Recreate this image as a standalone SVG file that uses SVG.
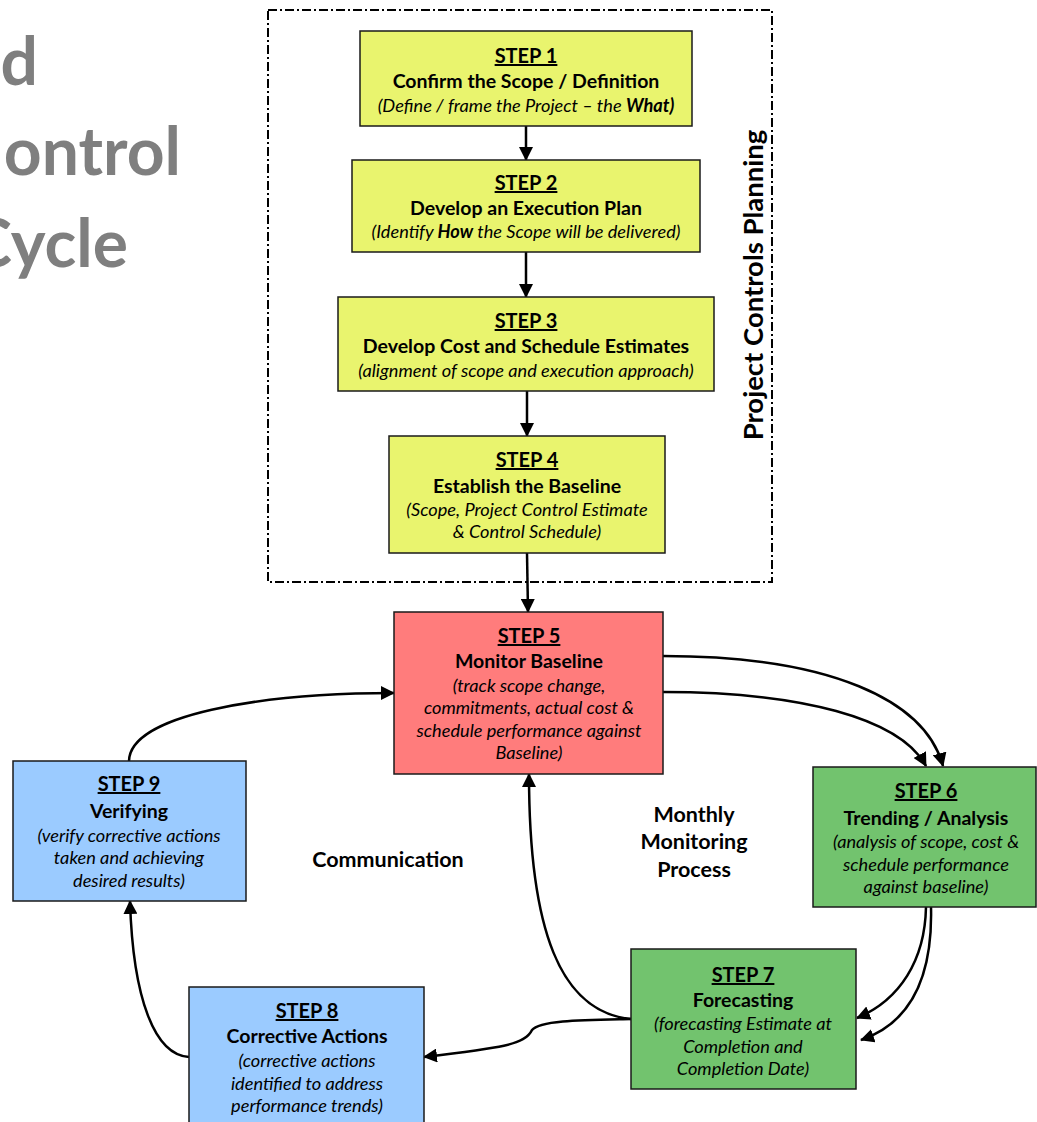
<svg xmlns="http://www.w3.org/2000/svg" width="1037" height="1122" viewBox="0 0 1037 1122">
  <style>
    .box { stroke: #1a1a1a; stroke-width: 1.5; }
    .yellow { fill: #E9F46E; }
    .red { fill: #FF7C7C; }
    .green { fill: #72C36E; }
    .blue { fill: #9BCBFF; }
    text { font-family: Lato, "Open Sans", "Liberation Sans", sans-serif; fill: #000; text-anchor: middle; }
    .step { font-weight: bold; font-size: 20px; text-decoration: underline; }
    .head { font-weight: bold; font-size: 19.5px; }
    .note { font-style: italic; font-size: 18.2px; }
    .b { font-weight: bold; }
    .label { font-weight: bold; font-size: 21.5px; }
    .side { font-weight: bold; font-size: 27.5px; }
    .title { font-weight: bold; font-size: 66px; fill: #7F7F7F; text-anchor: end; }
    .conn { fill: none; stroke: #000; stroke-width: 2.5; }
    .frame { fill: none; stroke: #000; stroke-width: 2; stroke-dasharray: 9 3 2 3; }
  </style>
  <defs>
    <marker id="arrow" markerUnits="userSpaceOnUse" markerWidth="14" markerHeight="14" refX="13" refY="7" orient="auto">
      <path d="M0,0 L14,7 L0,14 z" fill="#000"/>
    </marker>
  </defs>

  <rect width="1037" height="1122" fill="#fff"/>

  <!-- Title fragment at the left edge -->
  <g id="title">
    <text class="title" x="38" y="85">d</text>
    <text class="title" x="181" y="175">ontrol</text>
    <text class="title" x="128" y="267">Cycle</text>
  </g>

  <!-- Planning frame -->
  <g id="planning-frame">
    <rect class="frame" x="268" y="10" width="504" height="572"/>
    <text class="side" transform="translate(763,285) rotate(-90)">Project Controls Planning</text>
  </g>

  <!-- Connectors -->
  <g id="connectors">
    <line class="conn" x1="526" y1="126" x2="526" y2="160" marker-end="url(#arrow)"/>
    <line class="conn" x1="526" y1="252" x2="526" y2="297" marker-end="url(#arrow)"/>
    <line class="conn" x1="527" y1="391" x2="527" y2="436" marker-end="url(#arrow)"/>
    <line class="conn" x1="527" y1="553" x2="528" y2="612" marker-end="url(#arrow)"/>
    <path class="conn" d="M663,656 C830,656 925,700 943,766" marker-end="url(#arrow)"/>
    <path class="conn" d="M663,692 C800,692 900,718 926,766" marker-end="url(#arrow)"/>
    <path class="conn" d="M926,907 C925,960 900,1000 857,1018" marker-end="url(#arrow)"/>
    <path class="conn" d="M931,907 C933,985 905,1025 861,1040" marker-end="url(#arrow)"/>
    <path class="conn" d="M631,1019 C560,1012 529,930 529,774" marker-end="url(#arrow)"/>
    <path class="conn" d="M631,1019 C585,1020 540,1020 532,1030 C525,1045 500,1048 424,1057" marker-end="url(#arrow)"/>
    <path class="conn" d="M189,1057 C155,1055 133,1000 130,901" marker-end="url(#arrow)"/>
    <path class="conn" d="M129,761 C130,715 260,693 394,693" marker-end="url(#arrow)"/>
  </g>

  <!-- Steps -->
  <g id="step1">
    <rect class="box yellow" x="360" y="31" width="332" height="95"/>
    <text class="step" x="526" y="63">STEP 1</text>
    <text class="head" x="526" y="88">Confirm the Scope / Definition</text>
    <text class="note" x="526" y="112">(Define / frame the Project – the <tspan class="b">What)</tspan></text>
  </g>
  <g id="step2">
    <rect class="box yellow" x="352" y="160" width="348" height="92"/>
    <text class="step" x="526" y="190">STEP 2</text>
    <text class="head" x="526" y="215">Develop an Execution Plan</text>
    <text class="note" x="526" y="238">(Identify <tspan class="b">How</tspan> the Scope will be delivered)</text>
  </g>
  <g id="step3">
    <rect class="box yellow" x="338" y="297" width="376" height="94"/>
    <text class="step" x="526" y="328">STEP 3</text>
    <text class="head" x="526" y="353">Develop Cost and Schedule Estimates</text>
    <text class="note" x="526" y="377">(alignment of scope and execution approach)</text>
  </g>
  <g id="step4">
    <rect class="box yellow" x="389" y="436" width="276" height="117"/>
    <text class="step" x="527" y="467">STEP 4</text>
    <text class="head" x="527" y="493">Establish the Baseline</text>
    <text class="note" x="527" y="516">(Scope, Project Control Estimate</text>
    <text class="note" x="527" y="538">&amp; Control Schedule)</text>
  </g>
  <g id="step5">
    <rect class="box red" x="394" y="612" width="269" height="162"/>
    <text class="step" x="529" y="643">STEP 5</text>
    <text class="head" x="529" y="668">Monitor Baseline</text>
    <text class="note" x="529" y="692">(track scope change,</text>
    <text class="note" x="529" y="714">commitments, actual cost &amp;</text>
    <text class="note" x="529" y="737">schedule performance against</text>
    <text class="note" x="529" y="759">Baseline)</text>
  </g>
  <g id="step6">
    <rect class="box green" x="813" y="767" width="223" height="140"/>
    <text class="step" x="926" y="798">STEP 6</text>
    <text class="head" x="926" y="825">Trending / Analysis</text>
    <text class="note" x="926" y="848">(analysis of scope, cost &amp;</text>
    <text class="note" x="926" y="871">schedule performance</text>
    <text class="note" x="926" y="893">against baseline)</text>
  </g>
  <g id="step7">
    <rect class="box green" x="631" y="949" width="225" height="140"/>
    <text class="step" x="743" y="982">STEP 7</text>
    <text class="head" x="743" y="1007">Forecasting</text>
    <text class="note" x="743" y="1030">(forecasting Estimate at</text>
    <text class="note" x="743" y="1053">Completion and</text>
    <text class="note" x="743" y="1075">Completion Date)</text>
  </g>
  <g id="step8">
    <rect class="box blue" x="189" y="987" width="235" height="150"/>
    <text class="step" x="307" y="1018">STEP 8</text>
    <text class="head" x="307" y="1043">Corrective Actions</text>
    <text class="note" x="307" y="1067">(corrective actions</text>
    <text class="note" x="307" y="1090">identified to address</text>
    <text class="note" x="307" y="1112">performance trends)</text>
  </g>
  <g id="step9">
    <rect class="box blue" x="13" y="761" width="233" height="140"/>
    <text class="step" x="129" y="791">STEP 9</text>
    <text class="head" x="129" y="818">Verifying</text>
    <text class="note" x="129" y="842">(verify corrective actions</text>
    <text class="note" x="129" y="864">taken and achieving</text>
    <text class="note" x="129" y="887">desired results)</text>
  </g>

  <!-- Free labels -->
  <g id="labels">
    <text class="label" x="388" y="867">Communication</text>
    <text class="label" x="694" y="822">Monthly</text>
    <text class="label" x="694" y="849">Monitoring</text>
    <text class="label" x="694" y="877">Process</text>
  </g>
</svg>
